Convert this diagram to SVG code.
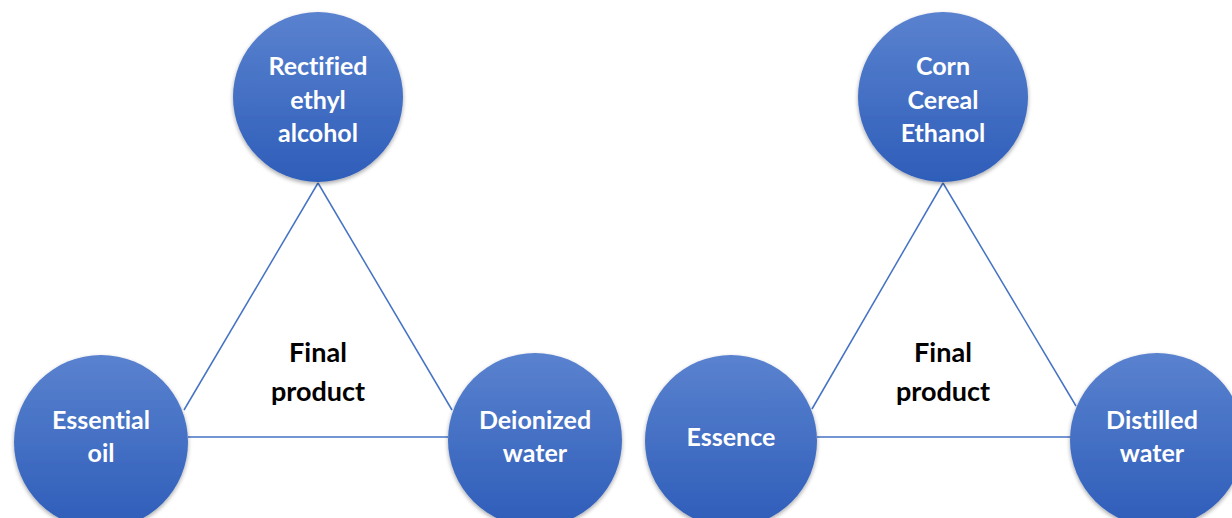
<svg xmlns="http://www.w3.org/2000/svg" width="1232" height="518" viewBox="0 0 1232 518">
<defs>
<linearGradient id="g" x1="0" y1="0" x2="0" y2="1">
<stop offset="0" stop-color="#5a82cf"/>
<stop offset="1" stop-color="#2e5db9"/>
</linearGradient>
<filter id="sh" x="-20%" y="-20%" width="140%" height="140%">
<feGaussianBlur in="SourceAlpha" stdDeviation="2"/>
<feOffset dx="0" dy="2"/>
<feComponentTransfer><feFuncA type="linear" slope="0.35"/></feComponentTransfer>
<feMerge><feMergeNode/><feMergeNode in="SourceGraphic"/></feMerge>
</filter>
</defs>
<style>
.n{fill:url(#g);filter:url(#sh)}
.t{fill:#fff;font-family:Lato,"Open Sans",sans-serif;font-weight:700;font-size:25px;text-anchor:middle;font-variant-ligatures:none}
.c{fill:#000;font-family:Lato,"Open Sans",sans-serif;font-weight:700;font-size:27px;text-anchor:middle}
.l{stroke:#4472c4;stroke-width:1.5;fill:none}
</style>
<rect width="1232" height="518" fill="#fff"/>
<g id="connectors">
<line class="l" x1="318" y1="183" x2="184" y2="410"/>
<line class="l" x1="318" y1="183" x2="452" y2="410"/>
<line class="l" x1="188" y1="437" x2="448" y2="437"/>
<line class="l" x1="943" y1="183" x2="812" y2="409"/>
<line class="l" x1="943" y1="183" x2="1076" y2="406"/>
<line class="l" x1="817" y1="437" x2="1071" y2="437"/>
</g>
<g id="rectified">
<circle class="n" cx="318" cy="97" r="85"/>
<text class="t" x="318" y="75">Rectified</text>
<text class="t" x="318" y="109">ethyl</text>
<text class="t" x="318" y="142">alcohol</text>
</g>
<g id="essential-oil">
<circle class="n" cx="101" cy="442" r="87"/>
<text class="t" x="101" y="429">Essential</text>
<text class="t" x="101" y="462">oil</text>
</g>
<g id="deionized-water">
<circle class="n" cx="535" cy="440" r="87"/>
<text class="t" x="535" y="429">Deionized</text>
<text class="t" x="535" y="462">water</text>
</g>
<g id="final-left">
<text class="c" x="318" y="362">Final</text>
<text class="c" x="318" y="401">product</text>
</g>
<g id="corn">
<circle class="n" cx="943" cy="97" r="85"/>
<text class="t" x="943" y="75">Corn</text>
<text class="t" x="943" y="109">Cereal</text>
<text class="t" x="943" y="142">Ethanol</text>
</g>
<g id="essence">
<circle class="n" cx="731" cy="441" r="86"/>
<text class="t" x="731" y="446">Essence</text>
</g>
<g id="distilled-water">
<circle class="n" cx="1157" cy="440" r="87"/>
<text class="t" x="1152" y="429">Distilled</text>
<text class="t" x="1152" y="462">water</text>
</g>
<g id="final-right">
<text class="c" x="943" y="362">Final</text>
<text class="c" x="943" y="401">product</text>
</g>
</svg>
